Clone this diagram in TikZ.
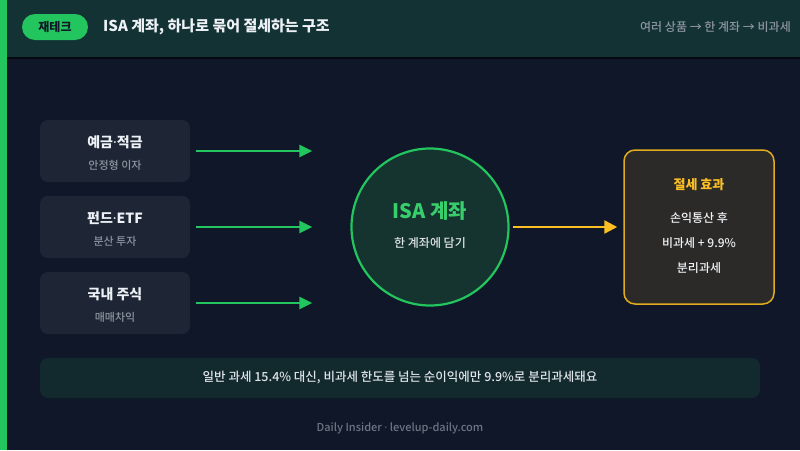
\documentclass[tikz,border=0pt]{standalone}
\usepackage{fontspec}
\setmainfont{Noto Sans CJK KR}
\newfontfamily\medfont{Noto Sans CJK KR Medium}
\newfontfamily\latinfont{Noto Sans}
\usetikzlibrary{arrows.meta,positioning}
\definecolor{bgNavy}{RGB}{15,23,41}
\definecolor{headTeal}{RGB}{19,50,52}
\definecolor{accGreen}{RGB}{34,197,94}
\definecolor{cardGray}{RGB}{30,38,54}
\definecolor{isaFill}{RGB}{21,52,47}
\definecolor{isaText}{RGB}{56,206,108}
\definecolor{amber}{RGB}{251,191,36}
\definecolor{effFill}{RGB}{44,42,40}
\definecolor{noteTeal}{RGB}{18,41,45}
\definecolor{subGray}{RGB}{140,148,160}
\definecolor{softWhite}{RGB}{238,242,246}
\newcommand{\middot}{{\latinfont\bfseries ·}}

\begin{document}
\begin{tikzpicture}[x=1pt,y=-1pt,
    srcbox/.style={fill=cardGray,rounded corners=8pt,minimum width=150pt,minimum height=62pt,inner sep=0pt},
    srctitle/.style={text=softWhite,font=\fontsize{14}{16}\selectfont\bfseries,inner sep=0pt},
    srcsub/.style={text=subGray,font=\fontsize{11}{13}\selectfont\medfont,inner sep=0pt},
    greenarrow/.style={-{Triangle[length=13pt,width=12pt]},line width=2.5pt,draw=accGreen},
    goldarrow/.style={-{Triangle[length=13pt,width=13pt]},line width=2.5pt,draw=amber},
    effline/.style={text=softWhite,font=\fontsize{12}{14}\selectfont\medfont,inner sep=0pt}
  ]
    \useasboundingbox (0,0) rectangle (800,450);
    \fill[bgNavy] (0,0) rectangle (800,450);
    % header band
    \fill[headTeal] (0,0) rectangle (800,57);
    \fill[black!60!bgNavy] (0,57) rectangle (800,58.5);
    \fill[accGreen] (0,0) rectangle (7,450);
    \node[fill=accGreen,rounded corners=13pt,minimum width=66pt,minimum height=26pt,inner sep=0pt,
      text=bgNavy,font=\fontsize{12}{14}\selectfont\bfseries] (tag) at (55,27) {재테크};
    \node[anchor=west,inner sep=0pt,text=softWhite,font=\fontsize{15}{17}\selectfont\bfseries] (title) at (103,27)
      {ISA 계좌, 하나로 묶어 절세하는 구조};
    \node[anchor=west,inner sep=0pt,text=subGray,font=\fontsize{12}{14}\selectfont\medfont] (route) at (640,27)
      {여러 상품 → 한 계좌 → 비과세};

    % source products
    \node[srcbox] (deposit) at (115,151) {};
    \node[srctitle] (depositT) at ([yshift=9pt]deposit.center) {예금\middot 적금};
    \node[srcsub] (depositS) at ([yshift=-14pt]deposit.center) {안정형 이자};
    \node[srcbox] (fund) at (115,227) {};
    \node[srctitle] (fundT) at ([yshift=9pt]fund.center) {펀드\middot ETF};
    \node[srcsub] (fundS) at ([yshift=-14pt]fund.center) {분산 투자};
    \node[srcbox] (stock) at (115,303) {};
    \node[srctitle] (stockT) at ([yshift=9pt]stock.center) {국내 주식};
    \node[srcsub] (stockS) at ([yshift=-14pt]stock.center) {매매차익};

    % ISA account
    \node[circle,draw=accGreen,line width=2.2pt,fill=isaFill,minimum size=157pt,inner sep=0pt] (isa) at (430,227) {};
    \node[text=isaText,font=\fontsize{20}{22}\selectfont\bfseries,inner sep=0pt] (isaT) at ([yshift=16pt]isa.center) {ISA 계좌};
    \node[text=softWhite!85!subGray,font=\fontsize{12}{14}\selectfont\medfont,inner sep=0pt] (isaS) at ([yshift=-16pt]isa.center) {한 계좌에 담기};

    % tax effect
    \node[draw=amber!90!black,line width=1.5pt,fill=effFill,rounded corners=11pt,minimum width=150pt,minimum height=154pt,inner sep=0pt] (effect) at (699,227) {};
    \node[text=amber,font=\fontsize{13}{15}\selectfont\bfseries,inner sep=0pt] (effectT) at (699,185) {절세 효과};
    \node[effline] (effect1) at (699,218) {손익통산 후};
    \node[effline] (effect2) at (699,243) {비과세 + 9.9\%};
    \node[effline] (effect3) at (699,268) {분리과세};

    \draw[greenarrow,shorten <=6pt,shorten >=38pt] (deposit.east) -- (deposit.east -| isa.west);
    \draw[greenarrow,shorten <=6pt,shorten >=38pt] (fund.east) -- (fund.east -| isa.west);
    \draw[greenarrow,shorten <=6pt,shorten >=38pt] (stock.east) -- (stock.east -| isa.west);
    \draw[goldarrow,shorten <=3pt,shorten >=6pt] (isa.east) -- (effect.west);

    % note and footer
    \node[fill=noteTeal,rounded corners=8pt,minimum width=720pt,minimum height=40pt,inner sep=0pt,
      text=softWhite!85!subGray,font=\fontsize{12.5}{14}\selectfont\medfont] (note) at (400,378)
      {일반 과세 15.4\% 대신, 비과세 한도를 넘는 순이익에만 9.9\%로 분리과세돼요};
    \node[text=subGray!75!bgNavy,font=\fontsize{11}{13}\selectfont\medfont,inner sep=0pt] (footer) at (400,428)
      {Daily Insider {\latinfont ·} levelup-daily.com};
  \end{tikzpicture}
\end{document}
